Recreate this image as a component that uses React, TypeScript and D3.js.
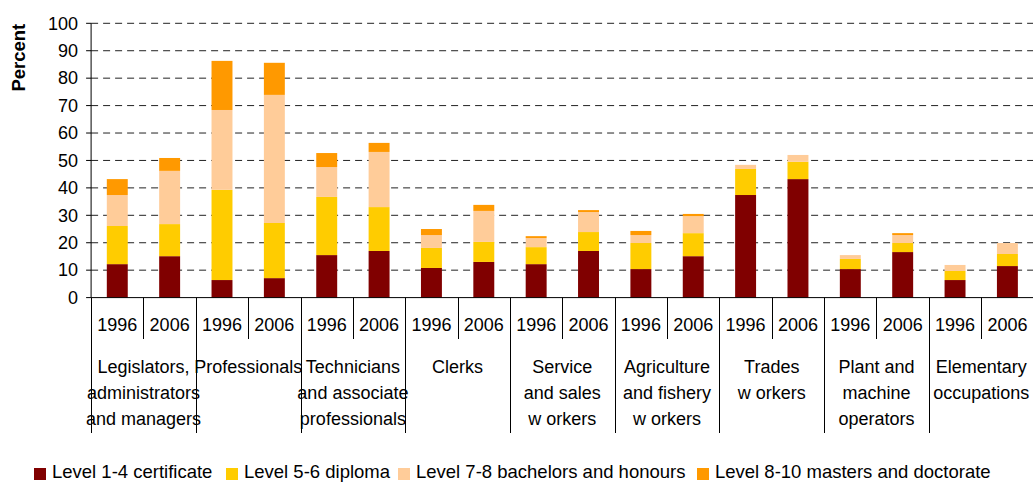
import React, { useEffect } from "react";
import * as d3 from "d3";

const occupations = [
  ["Legislators,", "administrators", "and managers"],
  ["Professionals"],
  ["Technicians", "and associate", "professionals"],
  ["Clerks"],
  ["Service", "and sales", "w orkers"],
  ["Agriculture", "and fishery", "w orkers"],
  ["Trades", "w orkers"],
  ["Plant and", "machine", "operators"],
  ["Elementary", "occupations"],
];
const years = ["1996", "2006"];

const seriesNames = [
  "Level 1-4 certificate",
  "Level 5-6 diploma",
  "Level 7-8 bachelors and honours",
  "Level 8-10 masters and doctorate",
];
const seriesColors = ["#800000", "#FFCC00", "#FFCC99", "#FF9900"];

// one value per bar: occupation x year (1996, 2006)
const level1to4 = [12.2, 15.1, 6.4, 7.1, 15.5, 17.0, 10.8, 13.0, 12.2, 17.0, 10.4, 15.1, 37.4, 43.2, 10.4, 16.6, 6.4, 11.5];
const level5to6 = [13.9, 11.7, 32.9, 20.1, 21.2, 16.0, 7.3, 7.3, 6.2, 6.9, 9.5, 8.4, 9.5, 6.3, 3.7, 3.3, 3.3, 4.4];
const level7to8 = [11.3, 19.4, 29.1, 46.7, 10.9, 20.1, 4.7, 11.3, 3.3, 7.3, 2.9, 6.2, 1.5, 2.5, 1.4, 2.9, 2.2, 4.0];
const level8to10 = [5.8, 4.7, 17.9, 11.7, 5.1, 3.3, 2.2, 2.2, 0.7, 0.7, 1.5, 0.8, 0, 0, 0, 0.7, 0, 0];

const yTicks = [0, 10, 20, 30, 40, 50, 60, 70, 80, 90, 100];

const W = 1033;
const H = 482;
const FONT = "'Liberation Sans', Arial, Helvetica, sans-serif";

export default function App() {
  useEffect(() => {
    document.body.style.margin = "0";
  }, []);

  const barKeys = occupations.flatMap((_, i) => years.map((y) => `${i}-${y}`));
  const left = 91.1;
  const right = left + 52.36 * barKeys.length;
  const x = d3.scaleBand<string>().domain(barKeys).range([left, right]).paddingInner(0.6).paddingOuter(0.3);
  const step = x.step();
  const y = d3.scaleLinear().domain([0, 100]).range([297.6, 23.3]);

  const rows = barKeys.map((k, i) => ({
    key: k,
    l1: level1to4[i],
    l2: level5to6[i],
    l3: level7to8[i],
    l4: level8to10[i],
  }));
  const stack = d3.stack<any>().keys(["l1", "l2", "l3", "l4"])(rows);

  const bandStart = (i: number) => left + i * step;

  const legendX = [34, 226, 398, 697];

  return (
    <svg width={W} height={H} style={{ display: "block" }} fontFamily={FONT}>
      <rect width={W} height={H} fill="#fff" />
      {/* gridlines */}
      {yTicks.filter((t) => t > 0).map((t) => (
        <line key={t} x1={left} x2={W} y1={y(t)} y2={y(t)} stroke="#222" strokeWidth={1} strokeDasharray="7,5" />
      ))}
      {/* bars */}
      {stack.map((s, si) => (
        <g key={si} fill={seriesColors[si]}>
          {s.map((d: any, i: number) =>
            d[1] - d[0] > 0 ? (
              <rect key={i} x={x(barKeys[i])} width={x.bandwidth()} y={y(d[1])} height={y(d[0]) - y(d[1])} />
            ) : null
          )}
        </g>
      ))}
      {/* y axis */}
      <line x1={left} x2={left} y1={y(100)} y2={y(0)} stroke="#000" />
      {yTicks.map((t) => (
        <g key={t}>
          <line x1={left - 5} x2={left} y1={y(t)} y2={y(t)} stroke="#000" />
          <text x={78} y={y(t)} dy="0.35em" textAnchor="end" fontSize={18} fill="#000">
            {t}
          </text>
        </g>
      ))}
      <text
        transform={`translate(25, ${(y(100) + 92) / 2}) rotate(-90)`}
        textAnchor="middle"
        fontSize={18.5}
        fontWeight="bold"
        fill="#000"
      >
        Percent
      </text>
      {/* x axis */}
      <line x1={left} x2={W} y1={y(0)} y2={y(0)} stroke="#000" />
      {barKeys.map((k, i) => (
        <g key={k}>
          <line
            x1={Math.round(bandStart(i)) + 0.5}
            x2={Math.round(bandStart(i)) + 0.5}
            y1={y(0)}
            y2={i % 2 === 0 ? 433 : 339}
            stroke="#000"
          />
          <text x={x(k)! + x.bandwidth() / 2} y={331} textAnchor="middle" fontSize={18} fill="#000">
            {years[i % 2]}
          </text>
        </g>
      ))}
      {occupations.map((lines, gi) => (
        <text key={gi} x={bandStart(gi * 2) + step} y={373} textAnchor="middle" fontSize={18} fill="#000">
          {lines.map((ln, li) => (
            <tspan key={li} x={bandStart(gi * 2) + step} dy={li === 0 ? 0 : 25.8}>
              {ln}
            </tspan>
          ))}
        </text>
      ))}
      {/* legend */}
      {seriesNames.map((n, i) => (
        <g key={n}>
          <rect x={legendX[i]} y={468} width={12} height={12} fill={seriesColors[i]} />
          <text x={legendX[i] + 18} y={477.5} fontSize={18.5} fill="#000">
            {n}
          </text>
        </g>
      ))}
    </svg>
  );
}
